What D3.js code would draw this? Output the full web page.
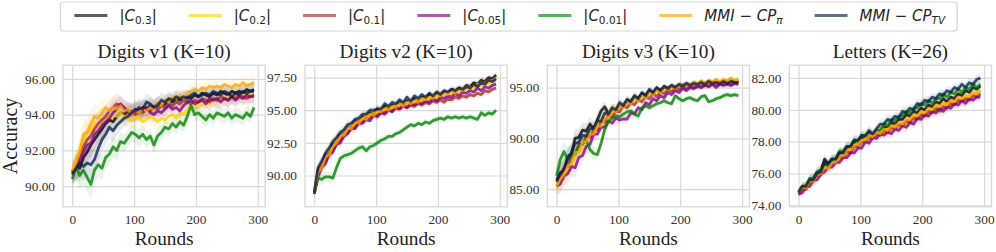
<!DOCTYPE html>
<html><head><meta charset="utf-8">
<script src="https://cdn.jsdelivr.net/npm/d3@7"></script>
<style>body{margin:0;background:#fff}</style>
</head><body><svg id="chart" width="996" height="252"></svg>
<script>
// ---------------- DATA ----------------
const rounds = [0,6,12,18,24,30,36,42,48,54,60,66,72,78,84,90,96,102,108,114,120,126,132,138,144,150,156,162,168,174,180,186,192,198,204,210,216,222,228,234,240,246,252,258,264,270,276,282,288,294];
const seriesNames = ["C0.3","C0.2","C0.1","C0.05","C0.01","MMI-CPpi","MMI-CPTV"];
const panelTitles = ["Digits v1 (K=10)","Digits v2 (K=10)","Digits v3 (K=10)","Letters (K=26)"];
const xTicks = [0,100,200,300];
const yTicksV1 = [90,92,94,96];
const yTicksV2 = [90,92.5,95,97.5];
const yTicksV3 = [85,90,95];
const yTicksL  = [74,76,78,80,82];

// Digits v1
const v1_c03 = [90.8,91.2,91.0,91.6,91.9,92.3,92.6,92.9,93.2,93.5,93.7,93.6,93.9,94.1,94.0,94.2,94.1,94.3,94.1,94.4,94.3,94.5,94.4,94.6,94.5,94.6,94.8,94.7,94.9,94.8,94.9,95.0,94.9,95.1,95.0,95.2,95.1,95.0,95.2,95.1,95.3,95.2,95.1,95.3,95.2,95.3,95.2,95.4,95.3,95.4];
const v1_c02 = [90.9,91.4,92.0,92.6,93.0,93.2,93.5,93.4,93.7,93.9,93.8,94.0,93.9,94.1,93.9,93.8,93.7,93.9,93.8,93.6,93.7,93.9,93.8,93.6,93.8,93.7,93.9,94.0,93.8,94.1,94.0,94.3,94.5,94.4,94.6,94.5,94.7,94.6,94.8,94.7,94.9,94.8,95.0,94.9,95.0,94.9,95.1,95.0,95.1,95.2];
const v1_c01 = [90.6,91.0,91.7,92.2,92.6,92.8,93.2,93.5,93.7,93.9,94.2,94.4,94.6,94.5,94.3,94.1,94.2,94.0,94.2,94.1,94.3,94.2,94.4,94.3,94.5,94.4,94.6,94.5,94.7,94.6,94.8,94.7,94.6,94.8,94.7,94.9,94.8,94.7,94.9,94.8,95.0,94.9,94.8,95.0,94.9,95.1,95.0,94.9,95.0,95.0];
const v1_c005 = [90.7,91.0,91.4,91.9,92.3,92.4,92.9,93.1,93.4,93.6,93.8,94.1,94.3,94.6,94.4,94.2,94.0,94.1,94.3,94.2,94.4,94.1,94.0,94.2,94.1,94.3,94.5,94.3,94.4,94.2,94.5,94.7,94.8,94.6,94.7,94.8,94.6,94.9,94.8,94.9,94.7,94.9,94.8,95.0,94.8,95.0,94.9,95.1,95.0,95.1];
const v1_c001 = [90.4,91.1,90.6,90.9,90.5,90.1,90.9,91.2,91.0,91.6,91.8,92.2,92.0,92.5,92.4,92.7,93.0,92.9,92.7,92.9,92.6,92.8,92.3,92.8,93.0,93.3,93.2,93.5,93.3,93.6,93.4,93.9,94.5,94.0,94.1,93.9,93.7,94.0,93.8,94.1,94.0,93.9,94.1,93.8,94.0,93.9,93.8,94.1,93.9,94.4];
const v1_pi = [90.8,91.3,91.9,92.9,93.0,93.5,93.9,93.8,94.1,94.4,94.2,94.4,94.3,94.5,94.2,94.3,94.0,94.2,94.1,94.3,94.2,94.4,94.3,94.6,94.5,94.8,94.7,95.0,94.9,95.1,94.9,95.2,95.3,95.4,95.3,95.5,95.4,95.6,95.5,95.6,95.5,95.7,95.6,95.5,95.7,95.6,95.8,95.6,95.7,95.8];
const v1_tv = [90.7,91.0,91.3,91.1,91.3,91.2,91.5,92.1,92.6,92.9,93.3,93.1,93.4,93.6,93.8,93.9,94.1,94.2,94.4,94.3,94.7,94.6,94.4,94.5,94.8,94.7,94.9,94.8,95.0,94.9,95.0,94.9,95.1,95.2,95.0,95.1,95.2,95.1,95.3,95.2,95.1,95.3,95.2,95.0,95.2,95.1,95.3,95.2,95.3,95.3];
const v1_spread = [0.5,0.7,0.8,0.8,0.8,0.8,0.7,0.7,0.7,0.6,0.6,0.6,0.6,0.5,0.5,0.5,0.5,0.5,0.5,0.5,0.5,0.45,0.45,0.45,0.45,0.4,0.4,0.4,0.4,0.4,0.4,0.4,0.4,0.4,0.4,0.4,0.4,0.4,0.4,0.4,0.4,0.4,0.4,0.4,0.4,0.4,0.4,0.4,0.4,0.4];

// Digits v2
const v2_c03 = [88.6,90.4,90.8,91.6,91.8,92.4,92.6,93.1,93.3,93.6,93.8,94.2,94.1,94.5,94.5,94.8,94.7,95.1,94.9,95.3,95.1,95.4,95.3,95.6,95.4,95.7,95.6,95.9,95.7,96.0,95.9,96.2,96.0,96.3,96.2,96.4,96.3,96.6,96.5,96.7,96.6,96.9,96.8,97.1,97.0,97.3,97.2,97.5,97.4,97.7];
const v2_c02 = [88.7,90.1,90.9,91.2,92.0,92.1,92.7,92.9,93.3,93.4,93.9,93.8,94.2,94.2,94.6,94.5,94.8,94.8,95.1,95.0,95.3,95.1,95.4,95.3,95.6,95.5,95.7,95.6,95.9,95.7,96.0,95.9,96.2,96.0,96.3,96.2,96.4,96.3,96.6,96.4,96.7,96.6,96.8,96.7,97.0,96.9,97.1,97.0,97.3,97.3];
const v2_c01 = [88.7,90.1,90.8,91.1,91.7,91.9,92.5,92.7,93.2,93.3,93.7,93.7,94.1,94.1,94.4,94.4,94.7,94.6,94.9,94.8,95.1,94.9,95.2,95.1,95.3,95.2,95.4,95.3,95.5,95.4,95.6,95.5,95.7,95.6,95.8,95.6,95.9,95.8,96.0,95.9,96.1,96.0,96.2,96.1,96.3,96.2,96.5,96.4,96.6,96.7];
const v2_c005 = [88.6,89.9,90.6,90.9,91.6,91.8,92.4,92.5,93.0,93.2,93.6,93.6,94.0,94.0,94.3,94.2,94.6,94.5,94.8,94.7,95.0,94.9,95.2,95.1,95.4,95.2,95.5,95.4,95.6,95.5,95.7,95.6,95.9,95.7,96.0,95.9,96.1,96.0,96.3,96.1,96.4,96.3,96.5,96.4,96.7,96.5,96.8,96.7,96.9,97.0];
const v2_c001 = [88.6,89.8,89.7,89.9,89.9,89.8,90.6,91.3,91.5,91.6,91.7,91.9,92.1,92.2,91.9,92.2,92.3,92.5,92.7,92.8,93.0,93.0,93.2,93.3,93.5,93.7,93.9,93.8,94.0,93.9,94.1,94.0,94.2,94.3,94.4,94.3,94.5,94.4,94.5,94.4,94.5,94.4,94.5,94.4,94.3,94.8,94.6,94.8,94.7,95.0];
const v2_pi = [88.8,90.2,90.6,91.4,91.6,92.2,92.5,93.0,93.1,93.6,93.6,94.1,94.0,94.4,94.3,94.7,94.6,94.9,94.9,95.1,95.0,95.3,95.2,95.5,95.3,95.6,95.5,95.7,95.6,95.9,95.8,96.0,95.9,96.2,96.1,96.3,96.2,96.5,96.3,96.6,96.5,96.8,96.7,96.9,96.8,97.1,97.0,97.3,97.2,97.5];
const v2_tv = [88.7,90.6,91.1,91.7,92.1,92.6,92.9,93.3,93.5,93.9,94.0,94.3,94.4,94.7,94.7,95.0,95.0,95.1,95.1,95.5,95.3,95.6,95.5,95.8,95.6,96.0,95.7,96.1,95.9,96.2,96.0,96.3,96.1,96.4,96.2,96.5,96.4,96.6,96.5,96.7,96.6,96.8,96.7,97.0,96.8,97.1,97.0,97.3,97.2,97.4];
const v2_spread = [0.3,0.45,0.45,0.45,0.4,0.4,0.4,0.35,0.35,0.35,0.3,0.3,0.3,0.3,0.3,0.3,0.3,0.3,0.3,0.3,0.25,0.25,0.25,0.25,0.25,0.25,0.25,0.25,0.25,0.25,0.25,0.25,0.25,0.25,0.25,0.25,0.25,0.25,0.25,0.25,0.25,0.25,0.25,0.25,0.25,0.25,0.25,0.25,0.25,0.25];

// Digits v3
const v3_c03 = [85.9,86.6,86.8,88.2,88.5,90.0,90.1,90.8,90.7,91.4,90.9,91.8,92.7,93.1,92.4,92.9,92.8,93.4,93.2,93.8,93.6,94.1,93.9,94.4,94.2,94.7,94.5,94.9,94.7,95.1,94.9,95.2,95.0,95.3,95.2,95.4,95.2,95.5,95.3,95.6,95.4,95.6,95.5,95.7,95.5,95.7,95.6,95.8,95.6,95.7];
const v3_c02 = [85.1,85.7,86.2,87.2,87.4,88.4,88.5,89.5,89.7,90.6,90.7,91.5,91.6,92.4,92.4,93.0,92.8,93.4,93.2,93.7,93.4,94.0,93.7,94.2,94.0,94.5,94.3,94.7,94.5,94.9,94.7,95.1,94.9,95.2,95.1,95.3,95.2,95.5,95.3,95.6,95.4,95.6,95.5,95.7,95.6,95.8,95.6,95.9,95.7,95.8];
const v3_c01 = [86.0,86.2,87.1,87.2,88.2,88.4,89.4,89.4,90.2,90.1,90.8,90.8,91.6,91.6,92.3,92.1,92.7,92.6,93.2,93.0,93.5,93.3,93.8,93.6,94.1,93.9,94.4,94.1,94.6,94.4,94.8,94.6,94.9,94.8,95.1,94.9,95.1,95.0,95.2,95.1,95.3,95.1,95.4,95.2,95.4,95.3,95.5,95.3,95.5,95.4];
const v3_c005 = [85.3,85.5,86.3,86.5,87.2,87.1,88.1,88.3,89.2,89.4,90.4,90.4,91.1,91.1,91.7,91.5,92.0,91.8,91.9,91.9,92.5,92.4,93.0,92.8,93.5,93.3,93.9,93.7,94.2,94.0,94.5,94.3,94.7,94.5,94.9,94.7,95.0,94.9,95.1,95.0,95.2,95.1,95.3,95.0,95.3,95.2,95.3,95.2,95.4,95.3];
const v3_c001 = [86.3,87.9,88.7,87.9,88.3,88.6,89.2,89.5,89.8,88.9,88.5,88.4,89.5,90.9,91.7,92.0,92.2,92.1,92.4,92.6,92.7,92.4,92.2,93.0,93.2,93.0,93.2,93.4,93.5,93.7,93.5,93.4,94.2,93.9,93.7,93.9,94.0,93.8,93.7,94.1,94.2,93.6,93.7,93.9,94.0,94.2,94.3,94.2,94.3,94.2];
const v3_pi = [85.3,86.0,86.4,87.3,87.5,88.6,88.6,89.6,89.7,90.4,90.4,91.2,91.2,92.0,92.0,92.7,92.6,93.2,93.0,93.6,93.4,93.9,93.7,94.2,94.0,94.5,94.3,94.8,94.5,95.0,94.8,95.1,94.9,95.3,95.1,95.4,95.2,95.5,95.3,95.6,95.4,95.7,95.5,95.8,95.5,95.8,95.6,95.9,95.7,95.8];
const v3_tv = [85.7,86.5,87.0,88.0,88.5,89.5,89.6,90.3,90.2,90.9,91.0,91.7,91.7,92.5,92.4,93.0,92.8,93.5,93.2,93.8,93.6,94.2,93.9,94.5,94.2,94.8,94.5,95.0,94.7,95.1,94.9,95.2,95.0,95.3,95.1,95.4,95.2,95.4,95.3,95.5,95.3,95.6,95.4,95.5,95.4,95.6,95.4,95.6,95.5,95.5];
const v3_spread = [0.8,1.0,1.0,1.0,1.0,0.9,0.9,0.8,0.8,0.7,0.7,0.6,0.6,0.55,0.5,0.5,0.45,0.45,0.4,0.4,0.4,0.4,0.35,0.35,0.35,0.35,0.35,0.3,0.3,0.3,0.3,0.3,0.3,0.3,0.3,0.3,0.3,0.3,0.3,0.3,0.3,0.3,0.3,0.3,0.3,0.3,0.3,0.3,0.3,0.3];

// Letters
const l_c03 = [74.8,75.1,75.2,75.6,75.7,76.1,76.2,76.9,76.6,76.9,76.9,77.3,77.3,77.6,77.6,78.0,77.9,78.3,78.2,78.5,78.3,78.6,78.6,78.9,78.9,79.2,79.1,79.4,79.4,79.7,79.6,79.9,79.8,80.1,80.0,80.3,80.2,80.5,80.4,80.7,80.5,80.8,80.7,81.0,80.9,81.2,81.1,81.4,81.3,81.5];
const l_c02 = [74.8,75.0,75.3,75.3,75.7,75.7,76.1,76.2,76.5,76.5,76.9,76.9,77.2,77.2,77.6,77.6,78.0,77.9,78.2,78.2,78.5,78.4,78.7,78.5,78.8,78.7,79.0,78.9,79.2,79.1,79.4,79.3,79.6,79.5,79.8,79.7,80.0,79.9,80.2,80.1,80.4,80.3,80.5,80.4,80.7,80.6,80.9,80.8,81.0,81.0];
const l_c01 = [74.7,75.0,75.0,75.5,75.5,75.9,75.9,76.6,76.4,76.7,76.7,77.1,77.0,77.4,77.3,77.7,77.7,78.0,78.0,78.3,78.2,78.5,78.4,78.7,78.6,78.9,78.8,79.1,79.0,79.3,79.2,79.5,79.4,79.7,79.6,79.9,79.8,80.1,79.9,80.2,80.1,80.4,80.3,80.6,80.5,80.7,80.6,80.9,80.8,81.0];
const l_c005 = [74.7,74.8,75.2,75.2,75.6,75.6,76.0,76.1,76.4,76.4,76.7,76.7,77.0,77.0,77.3,77.3,77.6,77.6,78.0,77.9,78.3,78.2,78.5,78.4,78.6,78.5,78.8,78.7,79.0,78.9,79.2,79.1,79.5,79.4,79.7,79.6,79.9,79.8,80.1,79.9,80.2,80.1,80.4,80.3,80.6,80.4,80.7,80.6,80.8,80.8];
const l_c001 = [74.9,75.2,75.2,75.7,75.7,76.1,76.2,76.6,76.5,76.9,76.9,77.4,77.4,77.7,77.7,78.1,78.0,78.4,78.3,78.6,78.4,78.7,78.7,79.1,79.0,79.4,79.3,79.6,79.6,79.9,79.8,80.1,80.1,80.4,80.3,80.6,80.4,80.7,80.7,81.0,80.8,81.1,81.0,81.3,81.1,81.4,81.3,81.6,81.4,81.6];
const l_pi = [74.8,75.1,75.1,75.5,75.5,75.9,76.0,76.4,76.3,76.7,76.7,77.1,77.1,77.5,77.5,77.8,77.8,78.1,78.1,78.4,78.3,78.6,78.5,78.8,78.7,79.0,78.9,79.2,79.1,79.4,79.4,79.7,79.6,79.9,79.8,80.1,80.0,80.3,80.2,80.4,80.3,80.6,80.5,80.8,80.7,80.9,80.8,81.1,81.0,81.2];
const l_tv = [74.8,75.2,75.2,75.6,75.6,76.0,76.1,76.7,76.6,76.9,76.9,77.3,77.3,77.7,77.7,78.1,78.1,78.4,78.4,78.7,78.5,78.8,79.1,79.1,79.4,79.3,79.6,79.5,79.9,79.8,80.1,80.0,80.4,80.3,80.6,80.5,80.8,80.7,81.0,80.9,81.2,81.1,81.4,81.3,81.6,81.4,81.7,81.6,81.9,82.0];
const l_spread = [0.2,0.25,0.3,0.3,0.3,0.3,0.3,0.3,0.3,0.3,0.3,0.3,0.3,0.3,0.3,0.3,0.3,0.3,0.3,0.3,0.3,0.3,0.3,0.3,0.3,0.3,0.3,0.3,0.3,0.3,0.3,0.3,0.3,0.3,0.3,0.3,0.3,0.3,0.3,0.3,0.3,0.3,0.3,0.3,0.3,0.3,0.3,0.3,0.3,0.3];

// ---------------- STYLE / LAYOUT ----------------
const colors = ["#000000","#ffd000","#a52a2a","#800080","#008000","#ffa500","#0a1f4f"];
const lineOpacity = 0.78, legendOpacity = 0.64;
const panels = [
  {title: panelTitles[0], series: [v1_c03,v1_c02,v1_c01,v1_c005,v1_c001,v1_pi,v1_tv], spread: v1_spread, yTicks: yTicksV1, yDomain: [88.85, 96.76], left: 63},
  {title: panelTitles[1], series: [v2_c03,v2_c02,v2_c01,v2_c005,v2_c001,v2_pi,v2_tv], spread: v2_spread, yTicks: yTicksV2, yDomain: [87.6, 98.45], left: 305},
  {title: panelTitles[2], series: [v3_c03,v3_c02,v3_c01,v3_c005,v3_c001,v3_pi,v3_tv], spread: v3_spread, yTicks: yTicksV3, yDomain: [83.25, 97.2], left: 547.3},
  {title: panelTitles[3], series: [l_c03,l_c02,l_c01,l_c005,l_c001,l_pi,l_tv], spread: l_spread, yTicks: yTicksL, yDomain: [73.91, 82.8], left: 789.3}
];
const PW = 202.2, PT = 65.2, PB = 206.8;
const serif = "'Liberation Serif','Times New Roman',serif";
const gridColor = "#d8d8d8";

const svg = d3.select("#chart");
svg.append("rect").attr("width",996).attr("height",252).attr("fill","#fff");

panels.forEach((p, k) => {
  const x = d3.scaleLinear().domain([-15, 312]).range([p.left, p.left + PW]);
  const y = d3.scaleLinear().domain(p.yDomain).range([PB, PT]);
  const g = svg.append("g");

  const ya = g.append("g").attr("transform", `translate(${p.left},0)`)
    .call(d3.axisLeft(y).tickValues(p.yTicks).tickSize(-PW).tickPadding(8).tickFormat(d3.format(".2f")));
  ya.select(".domain").remove();
  ya.selectAll("line").attr("stroke", gridColor).attr("stroke-width", 1.2);
  ya.selectAll("text").attr("font-family", serif).attr("font-size", 13.3).attr("fill", "#333");

  const xa = g.append("g").attr("transform", `translate(0,${PB})`)
    .call(d3.axisBottom(x).tickValues(xTicks).tickSize(-(PB-PT)).tickPadding(8).tickFormat(d3.format("d")));
  xa.select(".domain").remove();
  xa.selectAll("line").attr("stroke", gridColor).attr("stroke-width", 1.2);
  xa.selectAll("text").attr("font-family", serif).attr("font-size", 13.3).attr("fill", "#333");

  const clipId = "clip" + k;
  svg.append("clipPath").attr("id", clipId).append("rect")
    .attr("x", p.left).attr("y", PT).attr("width", PW).attr("height", PB-PT);
  const dg = g.append("g").attr("clip-path", `url(#${clipId})`);

  const area = d3.area().x(d => x(d.r)).y0(d => y(d.v - d.s)).y1(d => y(d.v + d.s));
  const line = d3.line().x(d => x(d.r)).y(d => y(d.v));

  p.series.forEach((vals, si) => {
    const pts = vals.map((v, i) => ({r: rounds[i], v: v, s: p.spread[i]})).filter(d => d.r !== undefined);
    dg.append("path").datum(pts).attr("d", area).attr("fill", colors[si]).attr("fill-opacity", 0.09).attr("stroke", "none");
  });
  p.series.forEach((vals, si) => {
    const pts = vals.map((v, i) => ({r: rounds[i], v: v})).filter(d => d.r !== undefined);
    dg.append("path").datum(pts).attr("d", line).attr("fill", "none")
      .attr("stroke", colors[si]).attr("stroke-opacity", lineOpacity).attr("stroke-width", 2.8)
      .attr("stroke-linejoin", "round");
  });

  g.append("rect").attr("x", p.left).attr("y", PT).attr("width", PW).attr("height", PB-PT)
    .attr("fill", "none").attr("stroke", gridColor).attr("stroke-width", 1.3);

  g.append("text").attr("x", p.left + PW/2).attr("y", 58).attr("text-anchor", "middle")
    .attr("font-family", serif).attr("font-size", 19.3).attr("fill", "#222").text(p.title);
  g.append("text").attr("x", p.left + PW/2).attr("y", 245).attr("text-anchor", "middle")
    .attr("font-family", serif).attr("font-size", 19.3).attr("fill", "#222").text("Rounds");
});

svg.append("text").attr("transform", "translate(16.5,136) rotate(-90)").attr("text-anchor", "middle")
  .attr("font-family", serif).attr("font-size", 20).attr("fill", "#222").text("Accuracy");

// ---------------- LEGEND ----------------
const legendLabels = [
  {main: "C", sub: "0.3", abs: true},
  {main: "C", sub: "0.2", abs: true},
  {main: "C", sub: "0.1", abs: true},
  {main: "C", sub: "0.05", abs: true},
  {main: "C", sub: "0.01", abs: true},
  {main: "CP", sub: "π", abs: false},
  {main: "CP", sub: "TV", abs: false}
];
const lf = "'DejaVu Sans',sans-serif";
const lg = svg.append("g");
const box = lg.append("rect");
const items = [];
let cx = 0;
legendLabels.forEach((L, i) => {
  const it = lg.append("g");
  it.append("line").attr("x1", 0).attr("x2", 33).attr("y1", 15.5).attr("y2", 15.5)
    .attr("stroke", colors[i]).attr("stroke-opacity", legendOpacity).attr("stroke-width", 2.8);
  const t = it.append("text").attr("x", 45).attr("y", 20.5).attr("font-family", lf).attr("font-size", 15).attr("fill", "#262626");
  if (L.abs) {
    t.append("tspan").text("|");
    t.append("tspan").attr("font-style", "italic").text(L.main);
    t.append("tspan").attr("font-size", 10.5).attr("dy", 3).text(L.sub);
    t.append("tspan").attr("dy", -3).text("|");
  } else {
    t.append("tspan").attr("font-style", "italic").text("MMI");
    t.append("tspan").text(" − ");
    t.append("tspan").attr("font-style", "italic").text(L.main);
    t.append("tspan").attr("font-style", "italic").attr("font-size", 10.5).attr("dy", 3).text(L.sub);
  }
  const w = t.node().getComputedTextLength();
  items.push({g: it, x: cx, w: w});
  cx += 45 + w + 32;
});
const shift = 303 - items[2].x;
items.forEach(d => d.g.attr("transform", `translate(${d.x + shift},0)`));
const last = items[items.length-1];
const bx0 = items[0].x + shift - 14, bx1 = last.x + shift + 45 + last.w + 12;
box.attr("x", bx0).attr("y", 2).attr("width", bx1 - bx0).attr("height", 29).attr("rx", 3)
  .attr("fill", "#fff").attr("stroke", "#d6d6d6").attr("stroke-width", 1.2);
</script></body></html>
